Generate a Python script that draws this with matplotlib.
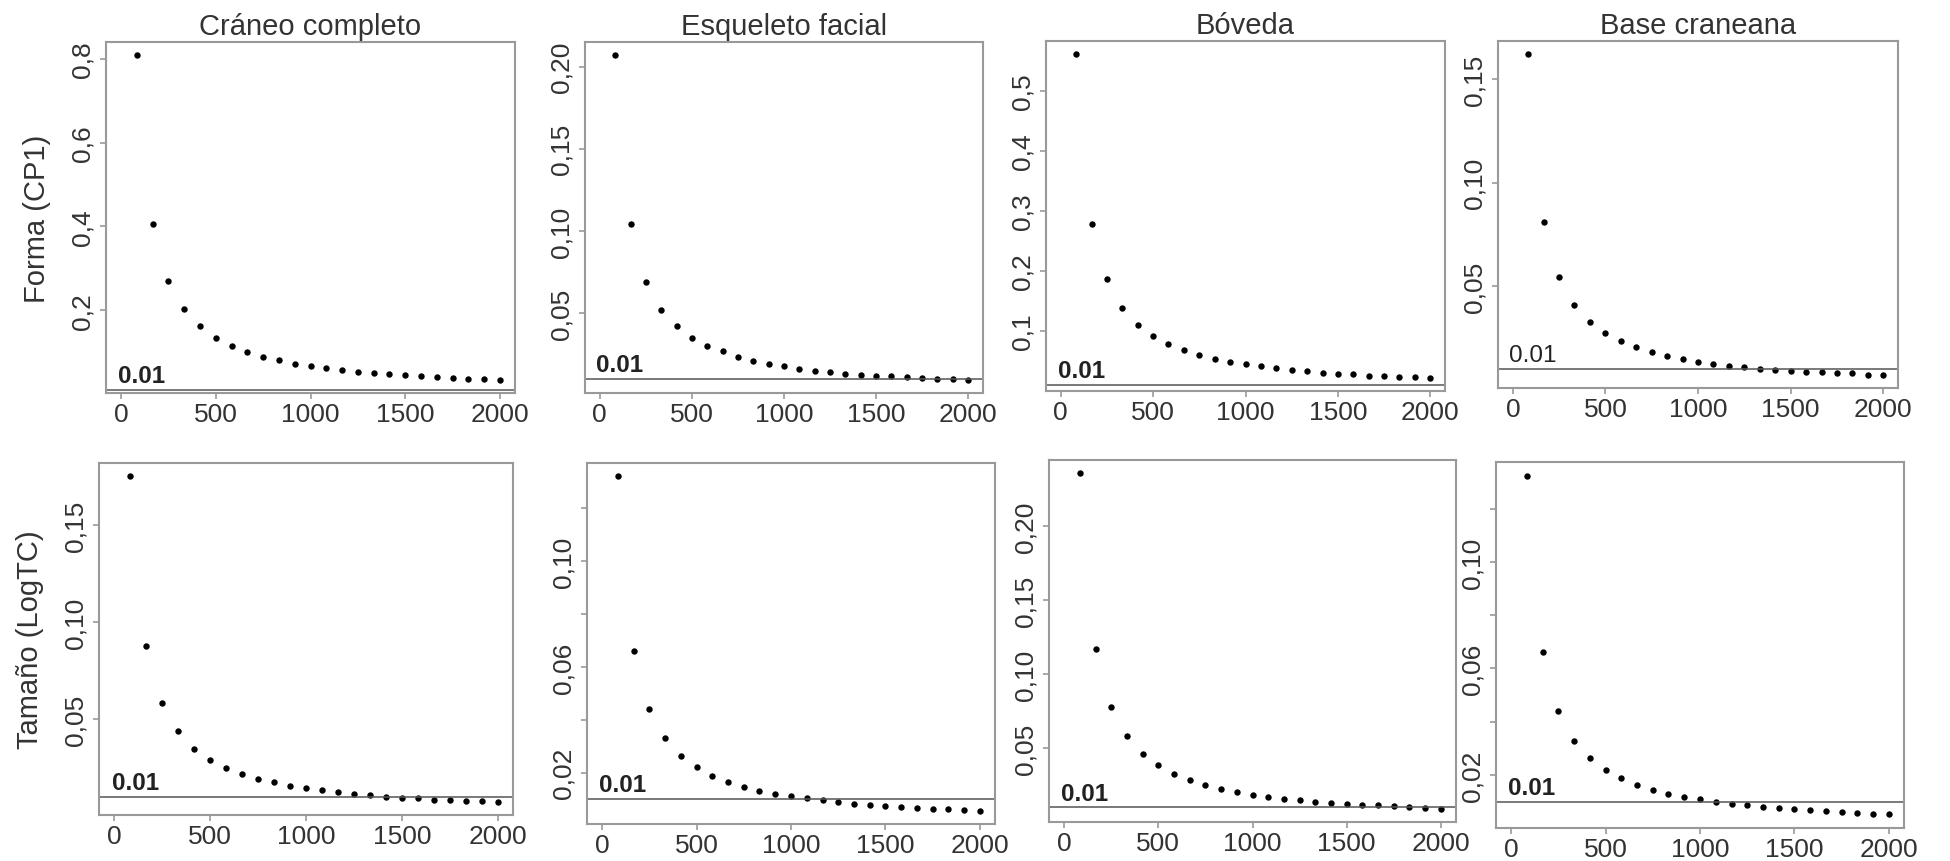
import numpy as np
import matplotlib
matplotlib.use("Agg")
import matplotlib.pyplot as plt

plt.rcParams['font.family'] = ['Liberation Sans', 'DejaVu Sans']

# sample sizes (x axis), same for all panels
n_muestra = [83, 167, 250, 333, 417, 500, 583, 667, 750, 833, 917, 1000,
             1083, 1167, 1250, 1333, 1417, 1500, 1583, 1667, 1750, 1833, 1917, 2000]

# top row: Forma (CP1)
forma_craneo = [0.81, 0.405, 0.270, 0.202, 0.161, 0.134, 0.114, 0.101, 0.089, 0.080, 0.072, 0.067,
                0.062, 0.057, 0.053, 0.049, 0.047, 0.044, 0.042, 0.040, 0.038, 0.036, 0.035, 0.033]
forma_facial = [0.207, 0.104, 0.069, 0.052, 0.042, 0.035, 0.030, 0.027, 0.0235, 0.021, 0.019, 0.018,
                0.016, 0.015, 0.014, 0.013, 0.0125, 0.012, 0.0115, 0.011, 0.0105, 0.010, 0.0098, 0.0093]
forma_boveda = [0.561, 0.279, 0.186, 0.139, 0.111, 0.092, 0.079, 0.068, 0.061, 0.054, 0.049, 0.045,
                0.042, 0.038, 0.036, 0.033, 0.031, 0.029, 0.028, 0.026, 0.025, 0.024, 0.023, 0.022]
forma_base = [0.1623, 0.0812, 0.0542, 0.0406, 0.0324, 0.0271, 0.0232, 0.0203, 0.018, 0.0162, 0.0146, 0.0135,
              0.0124, 0.0114, 0.0107, 0.0101, 0.0096, 0.0091, 0.0086, 0.0083, 0.008, 0.0077, 0.0072, 0.0069]

# bottom row: Tamaño (LogTC)
tam_craneo = [0.1755, 0.0876, 0.0583, 0.0436, 0.0347, 0.029, 0.0249, 0.0218, 0.0192, 0.0174, 0.0157, 0.0143,
              0.0133, 0.0124, 0.0115, 0.0107, 0.010, 0.0095, 0.009, 0.0084, 0.008, 0.0079, 0.0075, 0.0072]
tam_facial = [0.132, 0.0661, 0.0442, 0.033, 0.0265, 0.0222, 0.0189, 0.0167, 0.0148, 0.0133, 0.0121, 0.0112,
              0.0103, 0.0097, 0.009, 0.0083, 0.0079, 0.0075, 0.0071, 0.0068, 0.0065, 0.0063, 0.006, 0.0057]
tam_boveda = [0.2356, 0.1173, 0.0779, 0.0581, 0.0464, 0.0385, 0.0329, 0.0286, 0.0252, 0.0225, 0.0205, 0.0187,
              0.0171, 0.016, 0.0149, 0.0137, 0.013, 0.0122, 0.0117, 0.0113, 0.0108, 0.0104, 0.0097, 0.0092]
tam_base = [0.1324, 0.066, 0.0439, 0.0329, 0.0262, 0.0219, 0.0187, 0.0162, 0.0144, 0.013, 0.0117, 0.0109,
            0.010, 0.0092, 0.0086, 0.008, 0.0076, 0.0071, 0.0069, 0.0065, 0.0061, 0.0059, 0.0055, 0.0052]

titulos = ["Cráneo completo", "Esqueleto facial", "Bóveda", "Base craneana"]
etiquetas_y = ["Forma (CP1)", "Tamaño (LogTC)"]
umbral = 0.01

x_ticks = [0, 500, 1000, 1500, 2000]

# y ticks and their labels per panel (R style, comma decimals)
y_ticks = [
    [0.2, 0.4, 0.6, 0.8], [0.05, 0.10, 0.15, 0.20], [0.1, 0.2, 0.3, 0.4, 0.5], [0.05, 0.10, 0.15],
    [0.05, 0.10, 0.15], [0.02, 0.04, 0.06, 0.08, 0.10, 0.12], [0.05, 0.10, 0.15, 0.20],
    [0.02, 0.04, 0.06, 0.08, 0.10, 0.12],
]
y_labels = [
    ["0,2", "0,4", "0,6", "0,8"], ["0,05", "0,10", "0,15", "0,20"], ["0,1", "0,2", "0,3", "0,4", "0,5"],
    ["0,05", "0,10", "0,15"], ["0,05", "0,10", "0,15"], ["0,02", "", "0,06", "", "0,10", ""],
    ["0,05", "0,10", "0,15", "0,20"], ["0,02", "", "0,06", "", "0,10", ""],
]

series = [forma_craneo, forma_facial, forma_boveda, forma_base,
          tam_craneo, tam_facial, tam_boveda, tam_base]

# panel boxes in pixels: left, right, top, bottom
W, H = 1950, 862
cajas = [
    (106, 515, 43, 394), (585, 983, 43, 394), (1046, 1445, 42, 392), (1498, 1898, 42, 389),
    (99, 513, 464, 816), (587, 995, 464, 825), (1049, 1456, 461, 823), (1496, 1904, 463, 829),
]

gris = '#999999'
texto = '#333333'

fig = plt.figure(figsize=(W / 100, H / 100), dpi=100)

for i, (l, r, t, b) in enumerate(cajas):
    ax = fig.add_axes([l / W, 1 - b / H, (r - l) / W, (b - t) / H])
    y = series[i]
    ax.plot(n_muestra, y, 'o', color='black', ms=4.6, mew=0)

    # R default axis range: data range + 4%
    lo, hi = min(y), max(y)
    pad = 0.04 * (hi - lo)
    ax.set_ylim(lo - pad, hi + pad)
    ax.set_xlim(-0.04 * 2000, 2000 * 1.04)

    ax.axhline(umbral, color='#555555', lw=1.1)
    peso = 'normal' if i == 3 else 'bold'
    ax.annotate("0.01", (110, umbral), xytext=(0, 2), textcoords='offset points',
                ha='center', va='bottom', fontsize=17.5, fontweight=peso, color='#222222')

    ax.set_xticks(x_ticks)
    ax.set_xticklabels([str(v) for v in x_ticks])
    ax.set_yticks(y_ticks[i])
    ax.set_yticklabels(y_labels[i], rotation=90, va='center')
    ax.tick_params(axis='both', colors=gris, labelcolor=texto, labelsize=19,
                   length=4.5, width=1.2, pad=2)
    ax.tick_params(axis='y', pad=4)
    for s in ax.spines.values():
        s.set_color(gris)
        s.set_linewidth(1.5)

    if i < 4:
        ax.set_title(titulos[i], fontsize=21, color=texto, pad=5.5)
    if i % 4 == 0:
        ax.set_ylabel(etiquetas_y[i // 4], fontsize=21, color=texto, labelpad=14)

fig.savefig("out.png", dpi=100)
